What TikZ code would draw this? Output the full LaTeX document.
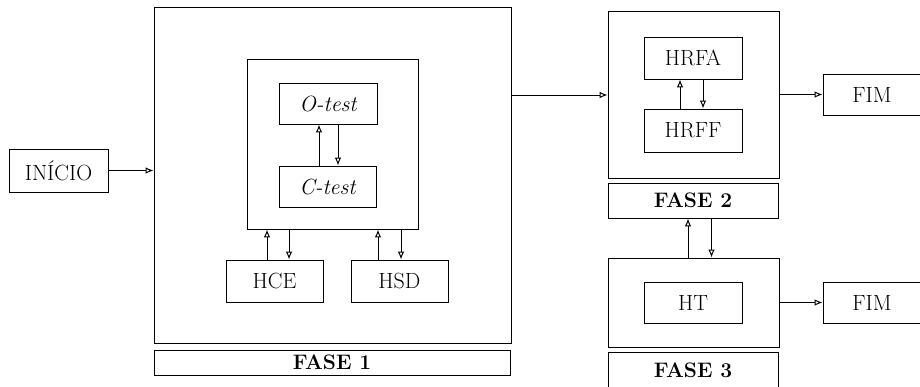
\documentclass[tikz,border=0pt]{standalone}
\usetikzlibrary{arrows.meta}
\begin{document}
\begin{tikzpicture}[x=1pt,y=-1pt,
  box/.style={draw,line width=1pt,inner sep=0pt,font=\fontsize{22}{26}\selectfont},
  frame/.style={draw,line width=1pt,inner sep=0pt},
  phase/.style={draw,line width=1pt,inner sep=0pt,font=\fontsize{21}{25}\selectfont\bfseries},
  arr/.style={line width=1pt,-{Latex[open,length=2.8mm,width=2.3mm]}}]
\useasboundingbox (0,0) rectangle (920,386);
\clip (0,0) rectangle (920,386);

% start
\node[box,minimum width=99pt,minimum height=43pt] (inicio) at (58.5,170.5) {INÍCIO};

% phase 1
\node[frame,minimum width=357pt,minimum height=336pt] (f1) at (332.5,175) {};
\node[phase,minimum width=356pt,minimum height=25pt] (f1lab) at (332,362.5) {FASE 1};
\node[frame,minimum width=171pt,minimum height=170pt] (inner) at (332.5,144) {};
\node[box,minimum width=98pt,minimum height=41pt] (otest) at (328,103.5) {\itshape O-test};
\node[box,minimum width=97pt,minimum height=41pt] (ctest) at (327.5,186.5) {\itshape C-test};
\node[box,minimum width=97pt,minimum height=42pt] (hce) at (274.5,281) {HCE};
\node[box,minimum width=97pt,minimum height=42pt] (hsd) at (399.5,281) {HSD};

% phase 2
\node[frame,minimum width=171pt,minimum height=167pt] (f2) at (693.5,94.5) {};
\node[box,minimum width=98pt,minimum height=42pt] (hrfa) at (693,58) {HRFA};
\node[box,minimum width=98pt,minimum height=43pt] (hrff) at (693,130.5) {HRFF};
\node[phase,minimum width=170pt,minimum height=35pt] (f2lab) at (693,200.5) {FASE 2};
\node[box,minimum width=98pt,minimum height=41pt] (fim1) at (872,94.5) {FIM};

% phase 3
\node[frame,minimum width=171pt,minimum height=89pt] (f3) at (693.5,302.5) {};
\node[box,minimum width=98pt,minimum height=41pt] (ht) at (693,302.5) {HT};
\node[phase,minimum width=170pt,minimum height=36pt] (f3lab) at (693,370) {FASE 3};
\node[box,minimum width=98pt,minimum height=41pt] (fim2) at (872,302.5) {FIM};

% flow between stages
\draw[arr] (inicio.east) -- (inicio.east -| f1.west);
\draw[arr] ([yshift=80pt]f1.east) -- ([yshift=80pt]f1.east -| f2.west);
\draw[arr] (f2.east) -- (fim1.west);
\draw[arr] (f3.east) -- (fim2.west);

% two-way links
\draw[arr] ([xshift=-8.5pt]ctest.north) -- ([xshift=-8.5pt]ctest.north |- otest.south);
\draw[arr] ([xshift=10pt]otest.south) -- ([xshift=10pt]otest.south |- ctest.north);
\draw[arr] ([xshift=-7.5pt]hce.north) -- ([xshift=-7.5pt]hce.north |- inner.south);
\draw[arr] ([xshift=14.5pt]hce.north |- inner.south) -- ([xshift=14.5pt]hce.north);
\draw[arr] ([xshift=-21.5pt]hsd.north) -- ([xshift=-21.5pt]hsd.north |- inner.south);
\draw[arr] ([xshift=1.5pt]hsd.north |- inner.south) -- ([xshift=1.5pt]hsd.north);
\draw[arr] ([xshift=-13pt]hrff.north) -- ([xshift=-13pt]hrff.north |- hrfa.south);
\draw[arr] ([xshift=10pt]hrfa.south) -- ([xshift=10pt]hrfa.south |- hrff.north);
\draw[arr] ([xshift=-5.5pt]f3.north) -- ([xshift=-5.5pt]f3.north |- f2lab.south);
\draw[arr] ([xshift=18.5pt]f2lab.south) -- ([xshift=18.5pt]f2lab.south |- f3.north);
\end{tikzpicture}
\end{document}
